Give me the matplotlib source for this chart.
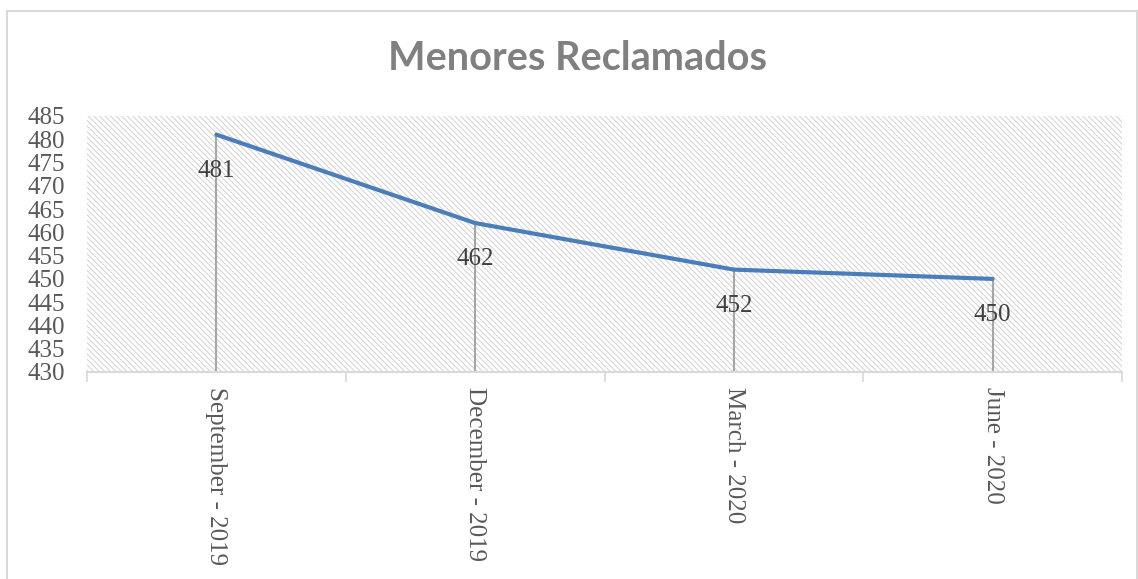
import matplotlib
matplotlib.use("Agg")
import matplotlib.pyplot as plt
from matplotlib.lines import Line2D

categories = ["September - 2019", "December - 2019", "March - 2020", "June - 2020"]
values = [481, 462, 452, 450]
yticks = [430, 435, 440, 445, 450, 455, 460, 465, 470, 475, 480, 485]
title = "Menores Reclamados"

plt.rcParams['hatch.color'] = '#d4d4d4'
plt.rcParams['hatch.linewidth'] = 0.75

fig = plt.figure(figsize=(11.38, 5.79), dpi=100)
ax = fig.add_axes([87/1138, 1-372/579, (1122-87)/1138, (372-116)/579])

ax.patch.set_facecolor('white')
ax.patch.set_hatch('\\' * 6)
ax.patch.set_edgecolor('#d4d4d4')
ax.patch.set_linewidth(0)

x = list(range(len(categories)))
ax.vlines(x, yticks[0], values, color='#a6a6a6', linewidth=1.5, zorder=2)
ax.plot(x, values, color='#4a7ebb', linewidth=3.0, solid_capstyle='round', zorder=3)

serif = 'Liberation Serif'
fs = 18
for xi, v in zip(x, values):
    ax.annotate(str(v), (xi, v), xytext=(0, -26), textcoords='offset points',
                ha='center', va='center', fontsize=fs, family=serif, color='#404040', zorder=4)

ax.set_xlim(-0.5, len(categories) - 0.5)
ax.set_ylim(yticks[0], yticks[-1])
ax.set_yticks(yticks)
ax.set_yticklabels([str(t) for t in yticks], family=serif, fontsize=fs, color='#595959')
ax.tick_params(axis='y', length=0, pad=16)

ax.set_xticks(x)
ax.set_xticklabels(categories, rotation=-90, family=serif, fontsize=fs, color='#595959',
                   va='top', ha='center')
ax.tick_params(axis='x', length=0, pad=11)
ax.set_xticks([i - 0.5 for i in range(len(categories) + 1)], minor=True)
ax.tick_params(axis='x', which='minor', length=7, color='#d9d9d9', width=1.2)

for s in ['left', 'right', 'top']:
    ax.spines[s].set_visible(False)
ax.spines['bottom'].set_color('#d9d9d9')
ax.spines['bottom'].set_linewidth(1.5)

fig.text(578/1138, 1-59/579, title, ha='center', va='center', fontsize=28.5,
         fontweight='bold', family='Lato', color='#808080')

bc = '#d9d9d9'
fig.add_artist(Line2D([7/1138, 7/1138], [0, 1-11/579], color=bc, lw=1.5, transform=fig.transFigure))
fig.add_artist(Line2D([7/1138, 1137/1138], [1-11/579, 1-11/579], color=bc, lw=1.5, transform=fig.transFigure))
fig.add_artist(Line2D([1137/1138, 1137/1138], [0, 1-11/579], color=bc, lw=1.5, transform=fig.transFigure))

fig.savefig('out.png', dpi=100)
